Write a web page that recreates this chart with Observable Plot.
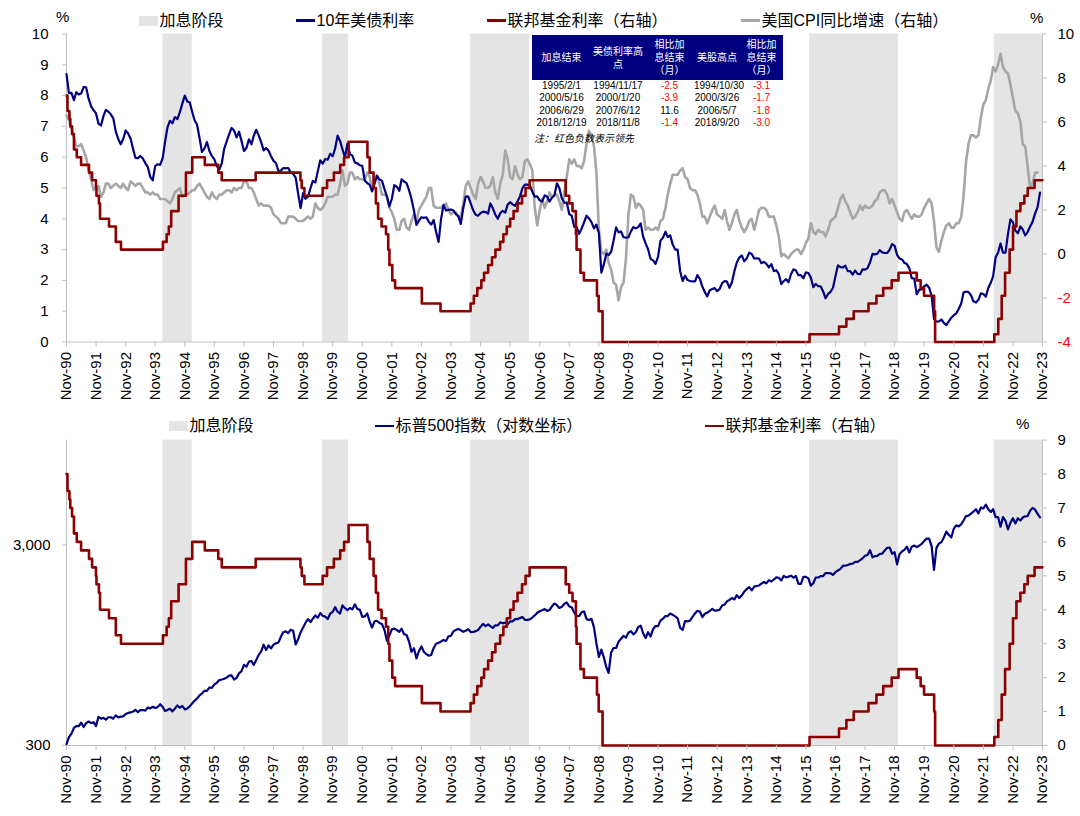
<!DOCTYPE html>
<html><head><meta charset="utf-8">
<script src="https://cdn.jsdelivr.net/npm/d3@7"></script>
<script src="https://cdn.jsdelivr.net/npm/@observablehq/plot@0.6"></script>
<style>
body{margin:0;background:#fff;font-family:"Liberation Sans","Noto Sans CJK SC",sans-serif;color:#000;}
#wrap{position:relative;width:1080px;height:816px;overflow:hidden;background:#fff;}
.leg{position:absolute;height:20px;display:flex;align-items:center;font-size:16px;line-height:1;white-space:nowrap;}
.sw{position:absolute;}
.pct{position:absolute;font-size:15px;line-height:1;}
#tbl{position:absolute;left:532px;top:35px;width:251px;border-collapse:collapse;table-layout:fixed;font-size:10px;font-family:"Liberation Sans","Noto Sans CJK SC",sans-serif;}
#tbl th{background:#000080;color:#fff;font-weight:normal;height:45px;padding:0;line-height:13px;text-align:center;}
#tbl td{height:12.3px;padding:0;line-height:12px;text-align:center;white-space:nowrap;}
#tbl td.neg{color:#ff0000;}
#note{position:absolute;left:534px;top:132px;font-size:10px;font-style:italic;line-height:13px;}
</style></head>
<body><div id="wrap"></div>
<script>
// ---------- data ----------
const xTickLabels = ["Nov-90","Nov-91","Nov-92","Nov-93","Nov-94","Nov-95","Nov-96","Nov-97","Nov-98","Nov-99","Nov-00","Nov-01","Nov-02","Nov-03","Nov-04","Nov-05","Nov-06","Nov-07","Nov-08","Nov-09","Nov-10","Nov-11","Nov-12","Nov-13","Nov-14","Nov-15","Nov-16","Nov-17","Nov-18","Nov-19","Nov-20","Nov-21","Nov-22","Nov-23"];
const hikeStart = ["1994-02-04","1999-06-30","2004-06-30","2015-12-16","2022-03-16"];
const hikeEnd   = ["1995-02-01","2000-05-16","2006-06-29","2018-12-19","2023-11-01"];

// 10-year Treasury yield, monthly from Nov 1990 (%)
const ust10y = [
 8.70,8.08,
 8.09,7.85,8.11,8.04,8.07,8.28,8.27,7.90,7.65,7.53,7.42,7.09,
 7.03,7.34,7.54,7.48,7.39,7.26,6.84,6.59,6.42,6.59,6.87,6.77,
 6.60,6.26,5.98,5.97,6.04,5.96,5.81,5.68,5.36,5.25,5.72,5.77,
 5.75,5.97,6.48,6.97,7.18,7.10,7.30,7.24,7.46,7.74,8.00,7.81,
 7.78,7.47,7.20,7.06,6.63,6.17,6.28,6.49,6.20,6.04,5.93,5.71,
 5.60,5.81,6.27,6.51,6.74,6.95,6.87,6.64,6.83,6.53,6.20,6.30,
 6.58,6.42,6.69,6.89,6.71,6.49,6.22,6.30,6.21,6.03,5.88,5.81,
 5.54,5.57,5.65,5.64,5.65,5.50,5.46,5.34,4.81,4.35,4.83,4.65,
 4.72,5.00,5.23,5.18,5.54,5.90,5.79,5.94,5.92,6.11,6.03,6.28,
 6.70,6.52,6.26,5.99,6.44,6.10,6.05,5.83,5.80,5.74,5.72,5.24,
 5.16,5.10,4.89,5.14,5.39,5.28,5.24,4.97,4.73,4.40,4.65,5.09,
 5.04,4.91,5.28,5.21,5.16,4.93,4.65,4.26,3.80,3.94,4.05,4.03,
 4.05,3.90,3.81,3.96,3.57,3.25,3.98,4.45,4.27,4.29,4.30,4.27,
 4.15,4.08,3.83,4.35,4.72,4.73,4.50,4.28,4.13,4.10,4.19,4.23,
 4.22,4.17,4.50,4.34,4.14,4.00,4.18,4.26,4.20,4.46,4.54,4.47,
 4.42,4.57,4.72,4.99,5.11,5.11,5.09,4.88,4.72,4.73,4.60,4.56,
 4.76,4.72,4.56,4.69,4.75,5.15,5.00,4.67,4.52,4.53,4.15,4.10,
 3.74,3.74,3.51,3.68,3.88,4.10,4.01,3.89,3.69,3.81,3.53,2.25,
 2.52,2.87,2.82,2.93,3.29,3.72,3.56,3.59,3.40,3.39,3.40,3.59,
 3.73,3.69,3.73,3.85,3.42,3.20,3.01,2.70,2.65,2.54,2.76,3.29,
 3.39,3.58,3.41,3.46,3.17,3.00,3.00,2.30,1.98,2.15,2.01,1.98,
 1.97,1.97,2.17,2.05,1.80,1.62,1.48,1.68,1.72,1.75,1.65,1.72,
 1.91,1.98,1.96,1.76,1.93,2.30,2.58,2.74,2.81,2.62,2.72,2.90,
 2.86,2.71,2.72,2.71,2.56,2.60,2.54,2.42,2.53,2.30,2.33,2.21,
 1.88,1.98,2.04,1.94,2.20,2.36,2.32,2.17,2.17,2.07,2.26,2.24,
 2.09,1.78,1.89,1.81,1.81,1.64,1.42,1.56,1.63,1.76,2.14,2.49,
 2.43,2.42,2.48,2.30,2.30,2.19,2.32,2.21,2.20,2.36,2.35,2.40,
 2.58,2.86,2.84,2.87,2.98,2.91,2.89,2.89,3.00,3.18,3.12,2.83,
 2.71,2.68,2.57,2.53,2.40,2.07,2.06,1.55,1.70,1.71,1.81,1.86,
 1.76,1.50,0.75,0.66,0.67,0.73,0.62,0.55,0.68,0.79,0.87,0.93,
 1.08,1.26,1.61,1.64,1.62,1.52,1.32,1.28,1.37,1.58,1.56,1.47,
 1.76,1.93,2.13,2.75,2.90,3.20,2.90,2.90,3.52,3.98,3.89,3.62,
 3.53,3.75,3.66,3.46,3.57,3.75,3.90,4.17,4.38,4.85
];

// US CPI YoY, monthly from Nov 1990 (%), right axis
const cpiYoY = [
 6.3,6.1,
 5.7,5.3,4.9,4.9,5.0,4.7,4.4,3.8,3.4,2.9,3.0,3.1,
 2.6,2.8,3.2,3.2,3.0,3.1,3.2,3.1,3.0,3.2,3.0,2.9,
 3.3,3.2,3.1,3.2,3.2,3.0,2.8,2.8,2.7,2.8,2.7,2.7,
 2.5,2.5,2.5,2.4,2.3,2.5,2.8,2.9,3.0,2.6,2.7,2.7,
 2.8,2.9,2.9,3.1,3.2,3.0,2.8,2.6,2.5,2.8,2.6,2.5,
 2.7,2.7,2.8,2.9,2.9,2.8,3.0,2.9,3.0,3.0,3.3,3.3,
 3.0,3.0,2.8,2.5,2.2,2.3,2.2,2.2,2.2,2.1,1.8,1.7,
 1.6,1.4,1.4,1.4,1.7,1.7,1.7,1.6,1.5,1.5,1.5,1.6,
 1.7,1.6,1.7,2.3,2.1,2.0,2.1,2.3,2.6,2.6,2.6,2.7,
 2.7,3.2,3.8,3.1,3.2,3.7,3.7,3.4,3.5,3.4,3.4,3.4,
 3.7,3.5,2.9,3.3,3.6,3.2,2.7,2.7,2.6,2.1,1.9,1.6,
 1.1,1.1,1.5,1.6,1.2,1.1,1.5,1.8,1.5,2.0,2.2,2.4,
 2.6,3.0,3.0,2.2,2.1,2.1,2.1,2.2,2.3,2.0,1.8,1.9,
 1.9,1.7,1.7,2.3,3.1,3.3,3.0,2.7,2.5,3.2,3.5,3.3,
 3.0,3.0,3.1,3.5,2.8,2.5,3.2,3.6,4.7,4.3,3.5,3.4,
 4.0,3.6,3.4,3.5,4.2,4.3,4.1,3.8,2.1,1.3,2.0,2.5,
 2.1,2.4,2.8,2.6,2.7,2.7,2.4,2.0,2.8,3.5,4.3,4.1,
 4.3,4.0,4.0,3.9,4.2,5.0,5.6,5.4,4.9,3.7,1.1,0.1,
 0.0,0.2,-0.4,-0.7,-1.3,-1.4,-2.1,-1.5,-1.3,-0.2,1.8,2.7,
 2.6,2.1,2.3,2.2,2.0,1.1,1.2,1.1,1.1,1.2,1.1,1.5,
 1.6,2.1,2.7,3.2,3.6,3.6,3.6,3.8,3.9,3.5,3.4,3.0,
 2.9,2.9,2.7,2.3,1.7,1.7,1.4,1.7,2.0,2.2,1.8,1.7,
 1.6,2.0,1.5,1.1,1.4,1.8,2.0,1.5,1.2,1.0,1.2,1.5,
 1.6,1.1,1.5,2.0,2.1,2.1,2.0,1.7,1.7,1.7,1.3,0.8,
 -0.1,0.0,-0.1,-0.2,0.0,0.1,0.2,0.2,0.0,0.2,0.5,0.7,
 1.4,1.0,0.9,1.1,1.0,1.0,0.8,1.1,1.5,1.6,1.7,2.1,
 2.5,2.7,2.4,2.2,1.9,1.6,1.7,1.9,2.2,2.0,2.2,2.1,
 2.1,2.2,2.4,2.5,2.8,2.9,2.9,2.7,2.3,2.5,2.2,1.9,
 1.6,1.5,1.9,2.0,1.8,1.6,1.8,1.7,1.7,1.8,2.1,2.3,
 2.5,2.3,1.5,0.3,0.1,0.6,1.0,1.3,1.4,1.2,1.2,1.4,
 1.4,1.7,2.6,4.2,5.0,5.4,5.4,5.3,5.4,6.2,6.8,7.0,
 7.5,7.9,8.5,8.3,8.6,9.1,8.5,8.3,8.2,7.7,7.1,6.5,
 6.4,6.0,5.0,4.9,4.0,3.0,3.2,3.7,3.7
];

// S&P 500 index, monthly from Nov 1990
const spx = [
 305,330,
 344,367,375,375,390,371,388,395,388,392,375,417,
 408,412,404,415,415,408,424,414,418,419,431,436,
 439,443,452,440,450,451,448,464,459,468,462,466,
 482,467,446,451,457,444,458,475,463,472,454,459,
 470,487,501,515,533,545,562,562,584,582,605,616,
 636,640,646,654,669,671,640,652,687,705,757,741,
 786,791,757,801,848,885,954,899,947,915,955,970,
 980,1049,1102,1112,1091,1134,1121,957,1017,1099,1164,1229,
 1280,1238,1286,1335,1302,1373,1329,1320,1283,1363,1389,1469,
 1394,1366,1499,1452,1421,1455,1431,1518,1437,1429,1315,1320,
 1366,1240,1160,1249,1256,1224,1211,1134,1000,1060,1139,1148,
 1130,1107,1147,1077,1067,990,880,916,815,886,936,880,
 856,841,848,917,964,975,990,1008,996,1051,1058,1112,
 1131,1145,1126,1107,1121,1141,1102,1104,1115,1130,1174,1212,
 1181,1204,1181,1157,1192,1191,1234,1220,1229,1207,1249,1248,
 1280,1281,1295,1311,1270,1270,1277,1304,1336,1378,1401,1418,
 1438,1407,1421,1482,1531,1503,1455,1474,1527,1549,1481,1468,
 1379,1331,1323,1386,1400,1280,1267,1283,1165,969,830,903,
 826,735,690,873,919,919,987,1021,1057,1036,1096,1115,
 1074,1104,1169,1187,1089,1031,1102,1049,1141,1183,1181,1258,
 1286,1327,1326,1364,1345,1321,1292,1160,1131,1253,1247,1258,
 1312,1366,1408,1398,1310,1362,1379,1407,1441,1412,1416,1426,
 1498,1515,1569,1598,1631,1606,1686,1633,1682,1757,1806,1848,
 1783,1859,1872,1884,1924,1960,1931,2003,1972,2018,2068,2059,
 1995,2105,2068,2086,2107,2063,2104,1920,1920,2079,2080,2044,
 1880,1932,2060,2065,2097,2099,2174,2171,2168,2126,2199,2239,
 2279,2364,2363,2384,2412,2423,2470,2472,2519,2575,2648,2674,
 2824,2600,2641,2648,2705,2718,2816,2902,2914,2711,2760,2400,
 2704,2784,2834,2946,2752,2942,2980,2926,2977,3038,3141,3231,
 3226,2954,2250,2912,3044,3100,3271,3500,3363,3270,3622,3756,
 3714,3811,3973,4181,4204,4298,4395,4523,4308,4605,4567,4766,
 4516,4374,4530,4132,4132,3700,4130,3955,3586,3872,4080,3840,
 4077,3970,4109,4169,4180,4450,4589,4508,4288,4117
];

// Fed funds target (lower bound), change dates and levels (%)
const fedDates = ["1990-11-01","1990-11-13","1990-12-07","1990-12-18","1991-01-09","1991-02-01","1991-03-08","1991-04-30","1991-08-06","1991-09-13","1991-10-31","1991-11-06","1991-12-06","1991-12-20","1992-04-09","1992-07-02","1992-09-04",
 "1994-02-04","1994-03-22","1994-04-18","1994-05-17","1994-08-16","1994-11-15","1995-02-01","1995-07-06","1995-12-19","1996-01-31","1997-03-25","1998-09-29","1998-10-15","1998-11-17","1999-06-30","1999-08-24","1999-11-16","2000-02-02","2000-03-21","2000-05-16",
 "2001-01-03","2001-01-31","2001-03-20","2001-04-18","2001-05-15","2001-06-27","2001-08-21","2001-09-17","2001-10-02","2001-11-06","2001-12-11","2002-11-06","2003-06-25",
 "2004-06-30","2004-08-10","2004-09-21","2004-11-10","2004-12-14","2005-02-02","2005-03-22","2005-05-03","2005-06-30","2005-08-09","2005-09-20","2005-11-01","2005-12-13","2006-01-31","2006-03-28","2006-05-10","2006-06-29",
 "2007-09-18","2007-10-31","2007-12-11","2008-01-22","2008-01-30","2008-03-18","2008-04-30","2008-10-08","2008-10-29","2008-12-16",
 "2015-12-16","2016-12-14","2017-03-15","2017-06-14","2017-12-13","2018-03-21","2018-06-13","2018-09-26","2018-12-19","2019-07-31","2019-09-18","2019-10-30","2020-03-03","2020-03-15",
 "2022-03-16","2022-05-04","2022-06-15","2022-07-27","2022-09-21","2022-11-02","2022-12-14","2023-02-01","2023-03-22","2023-05-03","2023-07-26","2023-10-31"];
const fedRates = [8.0,7.5,7.25,7.0,6.75,6.25,6.0,5.75,5.5,5.25,5.0,4.75,4.5,4.0,3.75,3.25,3.0,
 3.25,3.5,3.75,4.25,4.75,5.5,6.0,5.75,5.5,5.25,5.5,5.25,5.0,4.75,5.0,5.25,5.5,5.75,6.0,6.5,
 6.0,5.5,5.0,4.5,4.0,3.75,3.5,3.0,2.5,2.0,1.75,1.25,1.0,
 1.25,1.5,1.75,2.0,2.25,2.5,2.75,3.0,3.25,3.5,3.75,4.0,4.25,4.5,4.75,5.0,5.25,
 4.75,4.5,4.25,3.5,3.0,2.25,2.0,1.5,1.0,0,
 0.25,0.5,0.75,1.0,1.25,1.5,1.75,2.0,2.25,2.0,1.75,1.5,1.0,0,
 0.25,0.75,1.5,2.25,3.0,3.75,4.25,4.5,4.75,5.0,5.25,5.25];

const topLeftTicks = [0,1,2,3,4,5,6,7,8,9,10];
const topRightTicks = [-4,-2,0,2,4,6,8,10];
const botLeftTicks = [300,3000];
const botRightTicks = [0,1,2,3,4,5,6,7,8,9];

// table
const tableHead = [["加息结束"],["美债利率高","点"],["相比加","息结束","（月）"],["美股高点"],["相比加","息结束","（月）"]];
const tblHikeEnd = ["1995/2/1","2000/5/16","2006/6/29","2018/12/19"];
const tblBondPeak = ["1994/11/17","2000/1/20","2007/6/12","2018/11/8"];
const tblBondLead = [-2.5,-3.9,11.6,-1.4];
const tblStockPeak = ["1994/10/30","2000/3/26","2006/5/7","2018/9/20"];
const tblStockLead = [-3.1,-1.7,-1.8,-3.0];
const tableNote = "注：红色负数表示领先";

// ---------- build ----------
const parseDay = d3.utcParse("%Y-%m-%d");
const monthSeries = (vals) => vals.map((v,i)=>({date:new Date(Date.UTC(1990,10+i,1)), v}));
const ustData = monthSeries(ust10y);
const cpiData = monthSeries(cpiYoY);
const spxData = monthSeries(spx);
const fedData = fedDates.map((d,i)=>({date:parseDay(d), v:fedRates[i]}));
const hikes = hikeStart.map((s,i)=>({x1:parseDay(s), x2:parseDay(hikeEnd[i])}));
const xTicks = xTickLabels.map(l=>{const yy=+l.slice(4); return new Date(Date.UTC(yy<50?2000+yy:1900+yy,10,1));});
const xLabelMap = new Map(xTicks.map((d,i)=>[+d, xTickLabels[i]]));
const xDomain = [xTicks[0], xTicks[xTicks.length-1]];

const AX = "#bfbfbf";
const font = "Liberation Sans, Noto Sans CJK SC, sans-serif";
// top: left axis 0..10, right axis -4..10 share the same pixels
const toLeftTop = r => (r+4)/1.4;
const fromLeftTop = p => Math.round(p*1.4-4);
// bottom: y in log10 units of the index (300..10000); right axis 0..9 on same pixels
const LMIN = Math.log10(300), LMAX = Math.log10(10000);
const toLogBot = r => LMIN + (LMAX-LMIN)*r/9;
const fromLogBot = p => Math.round(9*(p-LMIN)/(LMAX-LMIN));

const xAxis = () => Plot.axisX(xTicks, {tickFormat: d=>xLabelMap.get(+d), tickRotate:-90, tickSize:5, tickPadding:5, stroke:AX, fill:"#000", fontSize:15, label:null});

const topPlot = Plot.plot({
  width:1080, height:418, marginLeft:66, marginRight:38, marginTop:33.5, marginBottom:76.5,
  style:{fontFamily:font, fontSize:"15px", color:"#000", background:"transparent"},
  x:{type:"utc", domain:xDomain, label:null},
  y:{domain:[0,10], label:null},
  marks:[
    Plot.rect(hikes, {x1:"x1", x2:"x2", y1:0, y2:10, fill:"#e4e4e4"}),
    Plot.ruleX([xDomain[0], xDomain[1]], {stroke:AX}),
    Plot.ruleY([0], {stroke:AX}),
    Plot.line(cpiData, {x:"date", y:d=>toLeftTop(d.v), stroke:"#a6a6a6", strokeWidth:2.6}),
    Plot.line(ustData, {x:"date", y:"v", stroke:"#000080", strokeWidth:2.2}),
    Plot.line(fedData, {x:"date", y:"v", curve:"step-after", stroke:"#8b0000", strokeWidth:2.6}),
    Plot.axisY(topLeftTicks, {anchor:"left", tickSize:4, tickPadding:14, stroke:AX, fill:"#000", label:null}),
    Plot.axisY(topRightTicks.filter(r=>r>=0).map(toLeftTop), {anchor:"right", tickSize:4, tickPadding:11, stroke:AX, fill:"#000", tickFormat:fromLeftTop, label:null}),
    Plot.axisY(topRightTicks.filter(r=>r<0).map(toLeftTop), {anchor:"right", tickSize:4, tickPadding:11, stroke:AX, fill:"#ff0000", tickFormat:fromLeftTop, label:null}),
    xAxis()
  ]
});

const botPlot = Plot.plot({
  width:1080, height:398, marginLeft:66, marginRight:38, marginTop:21.6, marginBottom:71,
  style:{fontFamily:font, fontSize:"15px", color:"#000", background:"transparent"},
  x:{type:"utc", domain:xDomain, label:null},
  y:{domain:[LMIN, LMAX], label:null},
  marks:[
    Plot.rect(hikes, {x1:"x1", x2:"x2", y1:LMIN, y2:LMAX, fill:"#e4e4e4"}),
    Plot.ruleX([xDomain[0], xDomain[1]], {stroke:AX}),
    Plot.ruleY([LMIN], {stroke:AX}),
    Plot.line(spxData, {x:"date", y:d=>Math.log10(d.v), stroke:"#000080", strokeWidth:2.2}),
    Plot.line(fedData, {x:"date", y:d=>toLogBot(d.v), curve:"step-after", stroke:"#8b0000", strokeWidth:2.6}),
    Plot.axisY(botLeftTicks.map(v=>Math.log10(v)), {anchor:"left", tickSize:4, tickPadding:12, stroke:AX, fill:"#000", tickFormat:p=>d3.format(",")(Math.round(Math.pow(10,p))), label:null}),
    Plot.axisY(botRightTicks.map(toLogBot), {anchor:"right", tickSize:4, tickPadding:11, stroke:AX, fill:"#000", tickFormat:p=>String(fromLogBot(p)), label:null}),
    xAxis()
  ]
});

const wrap = document.getElementById("wrap");
topPlot.style.position = "absolute"; topPlot.style.left = "0px"; topPlot.style.top = "0px";
botPlot.style.position = "absolute"; botPlot.style.left = "0px"; botPlot.style.top = "418px";
wrap.appendChild(topPlot);
wrap.appendChild(botPlot);

// legends
function addSwatch(x, y, w, h, color){ const s=document.createElement("div"); s.className="sw"; Object.assign(s.style,{left:x+"px",top:y+"px",width:w+"px",height:h+"px",background:color}); wrap.appendChild(s); }
function addText(x, cy, txt){ const t=document.createElement("div"); t.className="leg"; t.style.left=x+"px"; t.style.top=(cy-10)+"px"; t.textContent=txt; wrap.appendChild(t); }
const legendTop = [
  {type:"rect", x:139, color:"#e4e4e4", label:"加息阶段"},
  {type:"line", x:296, color:"#000080", label:"10年美债利率"},
  {type:"line", x:487, color:"#8b0000", label:"联邦基金利率（右轴）"},
  {type:"line", x:741, color:"#a6a6a6", label:"美国CPI同比增速（右轴）"}
];
const legendBot = [
  {type:"rect", x:169, color:"#e4e4e4", label:"加息阶段"},
  {type:"line", x:375, color:"#000080", label:"标普500指数（对数坐标）"},
  {type:"line", x:705, color:"#8b0000", label:"联邦基金利率（右轴）"}
];
function drawLegend(items, cy){
  for(const it of items){
    if(it.type==="rect") addSwatch(it.x, cy-5, 19, 10, it.color);
    else addSwatch(it.x, cy-1.25, 19, 2.5, it.color);
    addText(it.x+20.5, cy, it.label);
  }
}
drawLegend(legendTop, 20.5);
drawLegend(legendBot, 425.8);
function addPct(x, cy){ const t=document.createElement("div"); t.className="pct"; t.style.left=(x-6)+"px"; t.style.top=(cy-8)+"px"; t.textContent="%"; wrap.appendChild(t); }
addPct(62, 17); addPct(1036, 18); addPct(1022, 424);

// table
const tbl = document.createElement("table"); tbl.id="tbl";
const colW = [59,54,49,46,43];
const cg = document.createElement("colgroup");
colW.forEach(w=>{const c=document.createElement("col"); c.style.width=w+"px"; cg.appendChild(c);});
tbl.appendChild(cg);
const hr = document.createElement("tr");
tableHead.forEach(lines=>{const th=document.createElement("th"); th.innerHTML=lines.join("<br>"); hr.appendChild(th);});
tbl.appendChild(hr);
tblHikeEnd.forEach((d,i)=>{
  const tr=document.createElement("tr");
  const cells=[[d,false],[tblBondPeak[i],false],[tblBondLead[i].toFixed(1),tblBondLead[i]<0],[tblStockPeak[i],false],[tblStockLead[i].toFixed(1),tblStockLead[i]<0]];
  cells.forEach(([t,neg])=>{const td=document.createElement("td"); td.textContent=t; if(neg) td.className="neg"; tr.appendChild(td);});
  tbl.appendChild(tr);
});
wrap.appendChild(tbl);
const note=document.createElement("div"); note.id="note"; note.textContent=tableNote; wrap.appendChild(note);
</script>
</body></html>
